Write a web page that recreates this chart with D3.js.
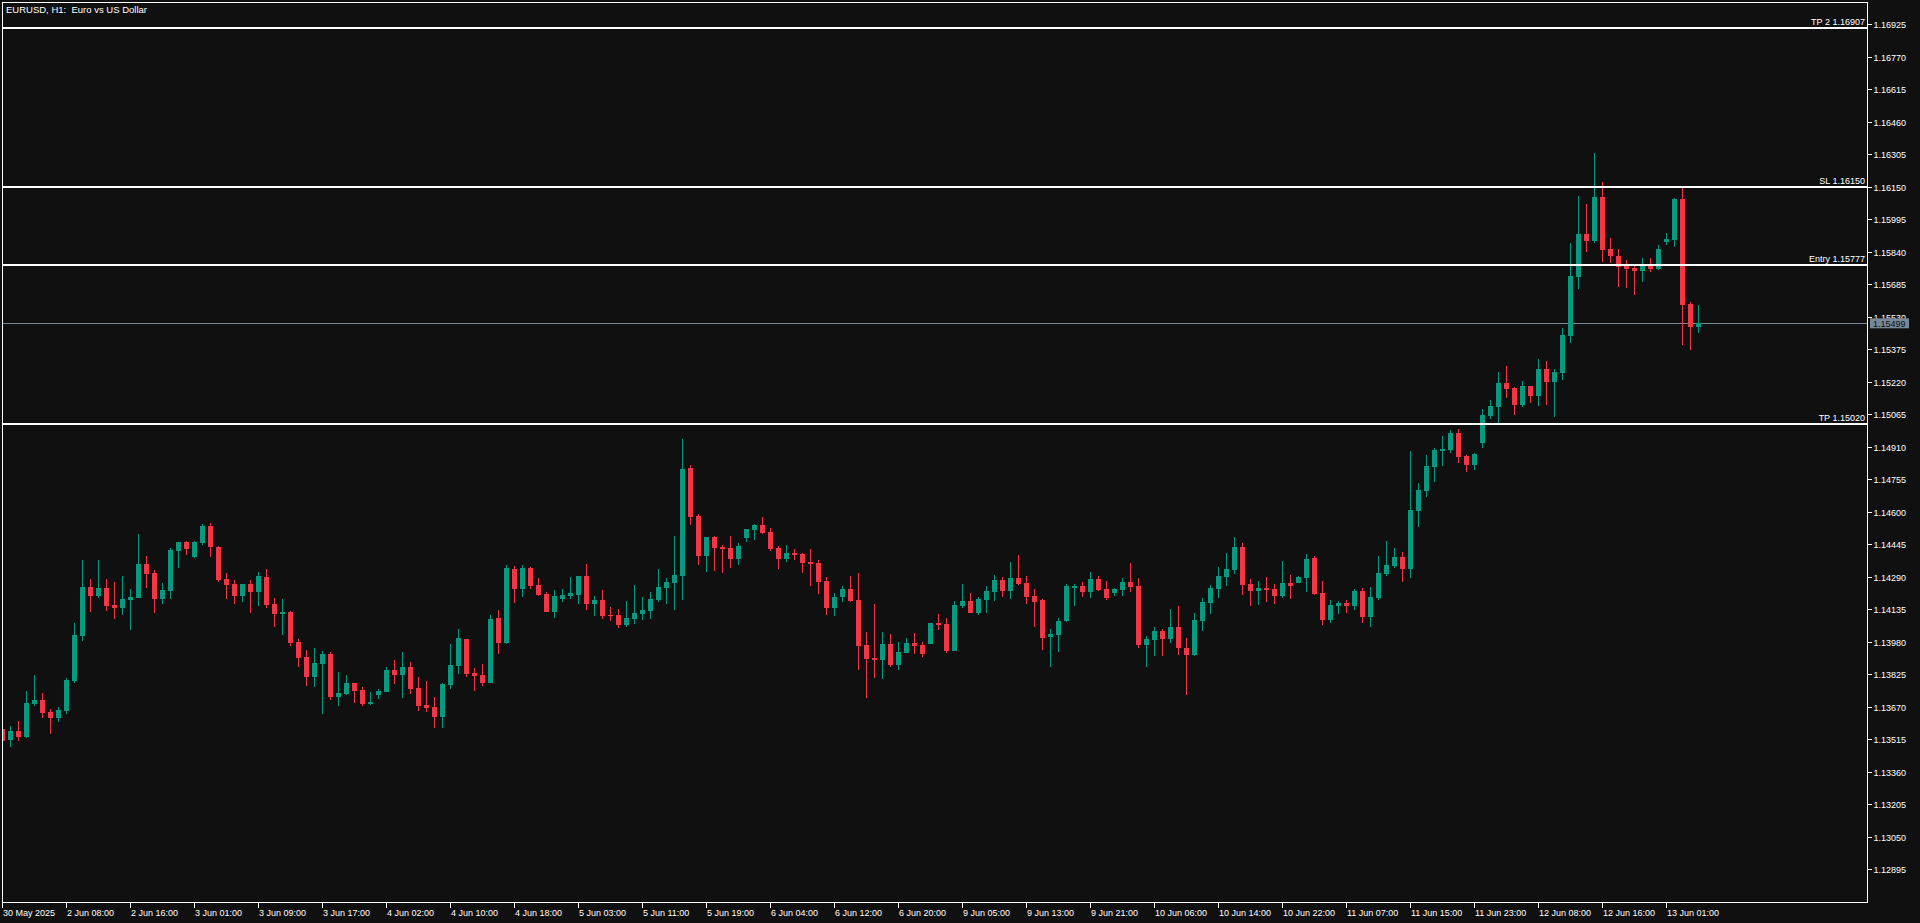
<!DOCTYPE html>
<html><head><meta charset="utf-8">
<script src="https://cdn.jsdelivr.net/npm/d3@7"></script>
<style>html,body{margin:0;padding:0;background:#101010;overflow:hidden}svg{display:block}</style>
</head><body><svg id="chart" width="1920" height="923"></svg>
<script>
// ---- data (EURUSD H1) ----
const openP = [1.13564,1.13513,1.13554,1.13526,1.13683,1.13702,1.13645,1.13618,1.13650,1.13794,
1.14009,1.14241,1.14200,1.14237,1.14155,1.14143,1.14181,1.14190,1.14351,1.14308,
1.14186,1.14224,1.14414,1.14456,1.14386,1.14453,1.14532,1.14432,1.14279,1.14256,
1.14200,1.14256,1.14219,1.14289,1.14160,1.14114,1.14122,1.13979,1.13907,1.13813,
1.13875,1.13922,1.13718,1.13732,1.13783,1.13750,1.13685,1.13728,1.13742,1.13845,
1.13823,1.13860,1.13760,1.13678,1.13669,1.13623,1.13775,1.13866,1.13993,1.13831,
1.13822,1.13785,1.14093,1.13976,1.14327,1.14233,1.14332,1.14251,1.14208,1.14123,
1.14186,1.14200,1.14205,1.14294,1.14162,1.14179,1.14108,1.14108,1.14061,1.14090,
1.14114,1.14128,1.14181,1.14238,1.14262,1.14295,1.14809,1.14580,1.14391,1.14480,
1.14432,1.14427,1.14376,1.14476,1.14515,1.14537,1.14504,1.14427,1.14376,1.14403,
1.14399,1.14361,1.14356,1.14270,1.14143,1.14195,1.14232,1.14179,1.13965,1.13903,
1.13895,1.13969,1.13871,1.13928,1.13974,1.13965,1.13971,1.14071,1.14065,1.13937,
1.14152,1.14175,1.14119,1.14181,1.14219,1.14275,1.14224,1.14284,1.14260,1.14198,
1.14179,1.14004,1.14014,1.14081,1.14241,1.14246,1.14219,1.14279,1.14232,1.14214,
1.14228,1.14265,1.14246,1.13966,1.13990,1.14031,1.13995,1.14051,1.13950,1.13918,
1.14081,1.14166,1.14233,1.14290,1.14324,1.14432,1.14256,1.14224,1.14237,1.14232,
1.14200,1.14260,1.14262,1.14286,1.14380,1.14213,1.14085,1.14152,1.14165,1.14152,
1.14222,1.14100,1.14190,1.14303,1.14341,1.14384,1.14327,1.14604,1.14699,1.14814,
1.14890,1.14895,1.14976,1.14866,1.14823,1.14928,1.15057,1.15100,1.15214,1.15191,
1.15109,1.15200,1.15152,1.15281,1.15219,1.15262,1.15439,1.15720,1.15925,1.15892,
1.16102,1.15854,1.15820,1.15772,1.15763,1.15749,1.15772,1.15758,1.15887,1.15897,
1.16092,1.15591,1.15482];
const highP = [1.13574,1.13578,1.13602,1.13745,1.13822,1.13736,1.13659,1.13669,1.13807,1.14070,
1.14370,1.14279,1.14370,1.14279,1.14265,1.14294,1.14232,1.14496,1.14389,1.14322,
1.14260,1.14427,1.14458,1.14461,1.14461,1.14542,1.14547,1.14437,1.14308,1.14275,
1.14258,1.14275,1.14313,1.14327,1.14189,1.14184,1.14127,1.13993,1.13941,1.13950,
1.13936,1.13931,1.13836,1.13822,1.13785,1.13764,1.13740,1.13755,1.13860,1.13893,
1.13931,1.13884,1.13812,1.13793,1.13717,1.13783,1.13969,1.14041,1.13995,1.13855,
1.13874,1.14108,1.14132,1.14346,1.14341,1.14346,1.14337,1.14284,1.14217,1.14227,
1.14232,1.14289,1.14296,1.14351,1.14198,1.14227,1.14146,1.14136,1.14175,1.14251,
1.14194,1.14217,1.14327,1.14284,1.14485,1.14947,1.14823,1.14590,1.14482,1.14485,
1.14442,1.14485,1.14451,1.14520,1.14542,1.14575,1.14523,1.14437,1.14442,1.14423,
1.14404,1.14423,1.14370,1.14289,1.14213,1.14246,1.14294,1.14308,1.14027,1.14160,
1.14027,1.14017,1.13979,1.13998,1.14022,1.13979,1.14072,1.14113,1.14093,1.14175,
1.14256,1.14213,1.14194,1.14246,1.14299,1.14289,1.14361,1.14394,1.14294,1.14232,
1.14184,1.14041,1.14093,1.14256,1.14256,1.14265,1.14313,1.14294,1.14270,1.14237,
1.14284,1.14356,1.14284,1.14008,1.14051,1.14041,1.14136,1.14151,1.13998,1.14117,
1.14189,1.14251,1.14337,1.14403,1.14480,1.14451,1.14279,1.14270,1.14289,1.14256,
1.14365,1.14299,1.14294,1.14399,1.14389,1.14270,1.14179,1.14175,1.14179,1.14232,
1.14237,1.14241,1.14389,1.14461,1.14427,1.14408,1.14890,1.14737,1.14871,1.14904,
1.14962,1.14990,1.14995,1.14871,1.14880,1.15090,1.15133,1.15267,1.15295,1.15193,
1.15224,1.15202,1.15329,1.15319,1.15281,1.15477,1.15882,1.16106,1.16068,1.16311,
1.16173,1.15906,1.15854,1.15801,1.15772,1.15811,1.15811,1.15873,1.15930,1.16097,
1.16145,1.15601,1.15586];
const lowP = [1.13478,1.13480,1.13508,1.13522,1.13675,1.13618,1.13542,1.13599,1.13637,1.13785,
1.13985,1.14123,1.14190,1.14128,1.14090,1.14109,1.14038,1.14188,1.14237,1.14119,
1.14162,1.14186,1.14333,1.14395,1.14381,1.14443,1.14386,1.14267,1.14186,1.14162,
1.14171,1.14119,1.14152,1.14143,1.14052,1.14014,1.13961,1.13861,1.13771,1.13766,
1.13637,1.13704,1.13675,1.13728,1.13689,1.13675,1.13680,1.13709,1.13740,1.13780,
1.13713,1.13732,1.13651,1.13646,1.13570,1.13570,1.13756,1.13828,1.13813,1.13747,
1.13771,1.13783,1.13923,1.13971,1.14166,1.14195,1.14233,1.14200,1.14121,1.14095,
1.14171,1.14186,1.14162,1.14133,1.14104,1.14090,1.14081,1.14047,1.14052,1.14066,
1.14085,1.14090,1.14171,1.14162,1.14133,1.14181,1.14538,1.14348,1.14314,1.14319,
1.14310,1.14333,1.14348,1.14457,1.14467,1.14496,1.14414,1.14329,1.14362,1.14372,
1.14310,1.14247,1.14209,1.14109,1.14104,1.14171,1.14171,1.13847,1.13713,1.13809,
1.13804,1.13861,1.13847,1.13926,1.13923,1.13909,1.13969,1.14038,1.13928,1.13935,
1.14143,1.14117,1.14109,1.14119,1.14176,1.14195,1.14186,1.14251,1.14162,1.14052,
1.13942,1.13861,1.13933,1.14076,1.14152,1.14195,1.14190,1.14224,1.14181,1.14200,
1.14200,1.14219,1.13952,1.13861,1.13914,1.13914,1.13976,1.13918,1.13728,1.13914,
1.14033,1.14114,1.14190,1.14247,1.14305,1.14205,1.14152,1.14157,1.14171,1.14162,
1.14190,1.14186,1.14260,1.14219,1.14205,1.14061,1.14071,1.14114,1.14119,1.14133,
1.14071,1.14052,1.14181,1.14294,1.14332,1.14265,1.14284,1.14528,1.14671,1.14742,
1.14819,1.14880,1.14833,1.14790,1.14799,1.14904,1.15043,1.15024,1.15143,1.15062,
1.15100,1.15119,1.15105,1.15109,1.15052,1.15229,1.15405,1.15663,1.15839,1.15882,
1.15792,1.15787,1.15672,1.15668,1.15634,1.15696,1.15744,1.15753,1.15873,1.15863,
1.15396,1.15372,1.15453];
const closeP = [1.13507,1.13554,1.13527,1.13688,1.13702,1.13642,1.13618,1.13656,1.13798,1.14012,
1.14241,1.14200,1.14237,1.14152,1.14143,1.14184,1.14194,1.14351,1.14305,1.14186,
1.14227,1.14418,1.14456,1.14424,1.14456,1.14532,1.14434,1.14275,1.14252,1.14200,
1.14256,1.14219,1.14294,1.14157,1.14114,1.14122,1.13976,1.13904,1.13813,1.13879,
1.13922,1.13718,1.13736,1.13783,1.13747,1.13685,1.13693,1.13745,1.13845,1.13823,
1.13860,1.13756,1.13675,1.13666,1.13623,1.13779,1.13869,1.13998,1.13828,1.13818,
1.13785,1.14089,1.13976,1.14332,1.14233,1.14332,1.14247,1.14205,1.14123,1.14198,
1.14203,1.14213,1.14294,1.14162,1.14179,1.14104,1.14104,1.14061,1.14093,1.14117,
1.14132,1.14184,1.14241,1.14265,1.14299,1.14804,1.14577,1.14391,1.14480,1.14429,
1.14424,1.14376,1.14437,1.14518,1.14537,1.14500,1.14424,1.14376,1.14403,1.14395,
1.14357,1.14352,1.14267,1.14143,1.14194,1.14232,1.14173,1.13961,1.13899,1.13895,
1.13969,1.13871,1.13931,1.13974,1.13961,1.13923,1.14070,1.14061,1.13937,1.14155,
1.14175,1.14119,1.14184,1.14222,1.14275,1.14224,1.14284,1.14256,1.14195,1.14171,
1.13999,1.14017,1.14079,1.14246,1.14246,1.14219,1.14279,1.14228,1.14190,1.14232,
1.14265,1.14243,1.13966,1.13993,1.14031,1.13995,1.14051,1.13952,1.13918,1.14084,
1.14170,1.14237,1.14294,1.14327,1.14432,1.14252,1.14224,1.14237,1.14228,1.14200,
1.14260,1.14247,1.14289,1.14375,1.14209,1.14085,1.14155,1.14165,1.14152,1.14222,
1.14100,1.14194,1.14308,1.14346,1.14384,1.14327,1.14609,1.14704,1.14819,1.14895,
1.14900,1.14976,1.14861,1.14823,1.14876,1.15062,1.15105,1.15214,1.15186,1.15109,
1.15200,1.15152,1.15281,1.15219,1.15267,1.15443,1.15725,1.15925,1.15892,1.16102,
1.15849,1.15820,1.15768,1.15758,1.15749,1.15772,1.15758,1.15854,1.15901,1.16092,
1.15586,1.15482,1.15499];
const xTickLabels = ["30 May 2025","2 Jun 08:00","2 Jun 16:00","3 Jun 01:00","3 Jun 09:00","3 Jun 17:00",
"4 Jun 02:00","4 Jun 10:00","4 Jun 18:00","5 Jun 03:00","5 Jun 11:00","5 Jun 19:00","6 Jun 04:00",
"6 Jun 12:00","6 Jun 20:00","9 Jun 05:00","9 Jun 13:00","9 Jun 21:00","10 Jun 06:00","10 Jun 14:00",
"10 Jun 22:00","11 Jun 07:00","11 Jun 15:00","11 Jun 23:00","12 Jun 08:00","12 Jun 16:00","13 Jun 01:00"];
const barsPerLabel = 8;
const yTickLabels = ["1.16925","1.16770","1.16615","1.16460","1.16305","1.16150","1.15995","1.15840",
"1.15685","1.15530","1.15375","1.15220","1.15065","1.14910","1.14755","1.14600","1.14445","1.14290",
"1.14135","1.13980","1.13825","1.13670","1.13515","1.13360","1.13205","1.13050","1.12895"];
const levelNames = ["TP 2","SL","Entry","TP"];
const levelValues = [1.16907,1.16150,1.15777,1.15020];
const lastPrice = 1.15499;
const titleText = "EURUSD, H1:  Euro vs US Dollar";

// ---- layout ----
const W = 1920, H = 923;
const plotL = 2, plotR = 1867, plotT = 2, plotB = 902;
const bg = "#101010", up = "#089981", down = "#F23645", fg = "#ffffff", priceCol = "#778899";
const font = "'Liberation Sans', Arial, sans-serif";

const svg = d3.select("#chart");
svg.append("rect").attr("width", W).attr("height", H).attr("fill", bg);

const n = openP.length;
const x = d3.scaleBand().domain(d3.range(n)).range([-1.5, -1.5 + 8 * n])
  .paddingInner(0.375).paddingOuter(0.1875);
const yVals = yTickLabels.map(Number);
const y = d3.scaleLinear().domain(d3.extent(yVals)).range([869.3, 24.3]);

svg.append("clipPath").attr("id", "plotClip").append("rect")
  .attr("x", plotL + 1).attr("y", plotT + 1).attr("width", plotR - plotL - 1).attr("height", plotB - plotT - 1);

const plot = svg.append("g").attr("clip-path", "url(#plotClip)").attr("shape-rendering", "crispEdges");

// current price line
const yp = Math.round(y(lastPrice)) + 0.5;
plot.append("line").attr("x1", plotL).attr("x2", plotR).attr("y1", yp).attr("y2", yp)
  .attr("stroke", priceCol).attr("stroke-width", 1);

// candles
const idx = d3.range(n);
const cg = plot.append("g");
cg.selectAll("line.wick").data(idx).join("line").attr("class", "wick")
  .attr("x1", i => x(i) + x.bandwidth() / 2).attr("x2", i => x(i) + x.bandwidth() / 2)
  .attr("y1", i => y(highP[i])).attr("y2", i => y(lowP[i]))
  .attr("stroke", i => closeP[i] >= openP[i] ? up : down).attr("stroke-width", 1);
cg.selectAll("rect.body").data(idx).join("rect").attr("class", "body")
  .attr("x", i => x(i)).attr("width", x.bandwidth())
  .attr("y", i => y(Math.max(openP[i], closeP[i])))
  .attr("height", i => Math.max(1.5, Math.abs(y(openP[i]) - y(closeP[i]))))
  .attr("fill", i => closeP[i] >= openP[i] ? up : down);

// levels
plot.selectAll("line.level").data(levelValues).join("line").attr("class", "level")
  .attr("x1", plotL).attr("x2", plotR).attr("y1", d => y(d)).attr("y2", d => y(d))
  .attr("stroke", fg).attr("stroke-width", 2);
svg.selectAll("text.levelLab").data(levelValues).join("text").attr("class", "levelLab")
  .attr("x", plotR - 2).attr("y", d => y(d) - 3).attr("text-anchor", "end")
  .attr("font-family", font).attr("font-size", "9px").attr("fill", fg)
  .text((d, i) => levelNames[i] + " " + d.toFixed(5));

// frame
svg.append("rect").attr("x", plotL + 0.5).attr("y", plotT + 0.5)
  .attr("width", plotR - plotL).attr("height", plotB - plotT)
  .attr("fill", "none").attr("stroke", fg).attr("stroke-width", 1).attr("shape-rendering", "crispEdges");

// y axis (right)
const yAxis = svg.append("g").attr("transform", `translate(${plotR + 0.5},0)`)
  .call(d3.axisRight(y).tickValues(yVals).tickFormat((d, i) => yTickLabels[i]).tickSize(4).tickSizeOuter(0));
yAxis.select(".domain").remove();
yAxis.selectAll(".tick line").attr("stroke", fg).attr("shape-rendering", "crispEdges");
yAxis.selectAll(".tick text").attr("x", 6).attr("dy", null).attr("y", 3.2)
  .attr("fill", fg).attr("font-family", font).attr("font-size", "9px");

// x axis (bottom)
const xTickIdx = xTickLabels.map((d, k) => k * barsPerLabel);
const xAxis = svg.append("g").attr("transform", `translate(0,${plotB + 0.5})`)
  .call(d3.axisBottom(x).tickValues(xTickIdx).tickFormat((d, k) => xTickLabels[k]).tickSize(5).tickSizeOuter(0));
xAxis.select(".domain").remove();
xAxis.selectAll(".tick line").attr("stroke", fg).attr("shape-rendering", "crispEdges");
xAxis.selectAll(".tick text").attr("text-anchor", "start").attr("x", 0.5).attr("dy", null).attr("y", 13)
  .attr("fill", fg).attr("font-family", font).attr("font-size", "9px");

// price tag
const tag = svg.append("g").attr("transform", `translate(${plotR + 3},${y(lastPrice)})`);
tag.append("rect").attr("x", 0).attr("y", -5).attr("width", 39).attr("height", 10).attr("fill", priceCol);
tag.append("text").attr("x", 3).attr("y", 3.2).attr("fill", "#101010")
  .attr("font-family", font).attr("font-size", "9px").text(lastPrice.toFixed(5));

// title
svg.append("text").attr("x", 6).attr("y", 13.4).attr("fill", fg)
  .attr("font-family", font).attr("font-size", "9.5px").attr("xml:space", "preserve")
  .style("white-space", "pre").text(titleText);
</script></body></html>
